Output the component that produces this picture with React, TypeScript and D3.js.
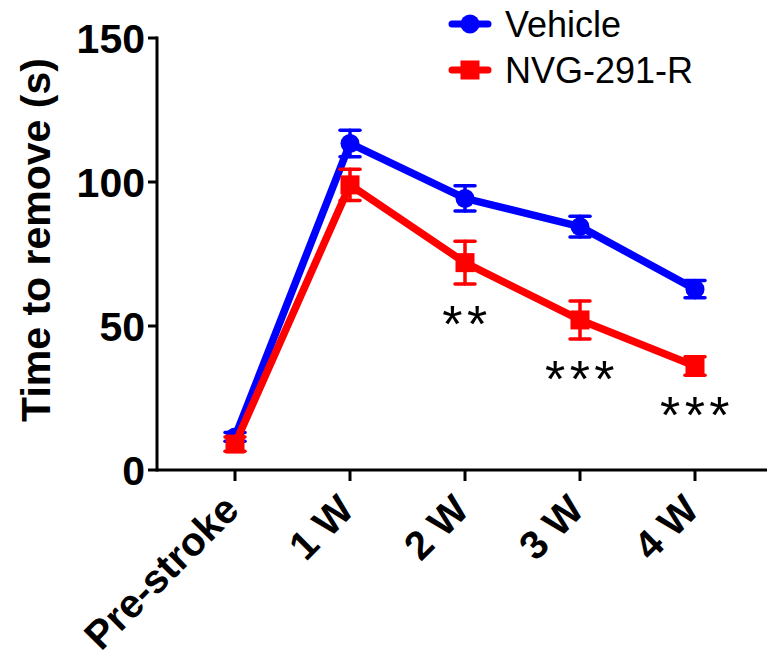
import * as d3 from "d3";

const categories = ["Pre-stroke", "1 W", "2 W", "3 W", "4 W"];
const vehicleMean = [11.5, 113.4, 94.3, 84.5, 62.8];
const vehicleSem = [1.5, 4.6, 4.4, 3.6, 3.0];
const nvgMean = [9.0, 99.0, 72.0, 52.1, 36.1];
const nvgSem = [2.5, 5.4, 7.4, 6.6, 3.2];
const sigLabels = ["", "", "**", "***", "***"];
const yTicks = [0, 50, 100, 150];

const W = 767;
const H = 661;
const FONT = "Liberation Sans, Arial, Helvetica, sans-serif";

export default function App() {
  const x = d3.scalePoint<string>().domain(categories).range([235, 695]);
  const y = d3.scaleLinear().domain([0, 150]).range([470, 38]);
  const axisX = 157;
  const axisY = y(0);

  const line = d3
    .line<number>()
    .x((_, i) => x(categories[i])!)
    .y((d) => y(d));

  const series = [
    { name: "Vehicle", mean: vehicleMean, sem: vehicleSem, color: "#0000ff", shape: "circle" },
    { name: "NVG-291-R", mean: nvgMean, sem: nvgSem, color: "#ff0000", shape: "square" },
  ];

  const marker = (shape: string, cx: number, cy: number, color: string, key?: any) =>
    shape === "circle" ? (
      <circle key={key} cx={cx} cy={cy} r={9.5} fill={color} />
    ) : (
      <rect key={key} x={cx - 9.5} y={cy - 9.5} width={19} height={19} fill={color} />
    );

  return (
    <svg width={W} height={H} style={{ position: "absolute", left: 0, top: 0, background: "#fff" }}>
      {/* y axis */}
      <line x1={axisX} x2={axisX} y1={y(150) - 1.5} y2={axisY + 1.5} stroke="#000" strokeWidth={3} />
      {yTicks.map((t) => (
        <g key={t}>
          <line x1={axisX - 9} x2={axisX} y1={y(t)} y2={y(t)} stroke="#000" strokeWidth={3} />
          <text
            x={axisX - 12}
            y={y(t)}
            dy="0.36em"
            textAnchor="end"
            fontFamily={FONT}
            fontWeight="bold"
            fontSize={41}
          >
            {t}
          </text>
        </g>
      ))}
      <text
        transform={`translate(50,240) rotate(-90)`}
        textAnchor="middle"
        fontFamily={FONT}
        fontWeight="bold"
        fontSize={41}
      >
        Time to remove (s)
      </text>

      {/* x axis */}
      <line x1={axisX} x2={W} y1={axisY} y2={axisY} stroke="#000" strokeWidth={3} />
      {categories.map((c) => (
        <g key={c}>
          <line x1={x(c)} x2={x(c)} y1={axisY} y2={axisY + 11} stroke="#000" strokeWidth={3} />
          <text
            transform={`translate(${x(c)! + 6},${axisY + 42}) rotate(-45)`}
            textAnchor="end"
            fontFamily={FONT}
            fontWeight="bold"
            fontSize={40}
          >
            {c}
          </text>
        </g>
      ))}

      {/* series */}
      {series.map((s) => (
        <g key={s.name}>
          <path d={line(s.mean)!} fill="none" stroke={s.color} strokeWidth={7.5} strokeLinejoin="round" />
          {s.mean.map((m, i) => {
            const cx = x(categories[i])!;
            return (
              <g key={i} stroke={s.color} strokeWidth={3.5} strokeLinecap="round">
                <line x1={cx} x2={cx} y1={y(m - s.sem[i])} y2={y(m + s.sem[i])} />
                <line x1={cx - 10} x2={cx + 10} y1={y(m - s.sem[i])} y2={y(m - s.sem[i])} />
                <line x1={cx - 10} x2={cx + 10} y1={y(m + s.sem[i])} y2={y(m + s.sem[i])} />
              </g>
            );
          })}
          {s.mean.map((m, i) => marker(s.shape, x(categories[i])!, y(m), s.color, i))}
        </g>
      ))}

      {/* significance */}
      {sigLabels.map((l, i) =>
        l ? (
          <text
            key={i}
            x={x(categories[i])! + 2}
            y={y(nvgMean[i] - nvgSem[i]) + 58}
            textAnchor="middle"
            fontFamily={FONT}
            fontSize={52}
            letterSpacing={4.5}
          >
            {l}
          </text>
        ) : null
      )}

      {/* legend */}
      {series.map((s, i) => {
        const ly = 24 + i * 46;
        return (
          <g key={s.name}>
            <line x1={452} x2={488} y1={ly} y2={ly} stroke={s.color} strokeWidth={7} strokeLinecap="round" />
            {marker(s.shape, 470, ly, s.color)}
            <text x={505} y={ly + 13} fontFamily={FONT} fontSize={36}>
              {s.name}
            </text>
          </g>
        );
      })}
    </svg>
  );
}
